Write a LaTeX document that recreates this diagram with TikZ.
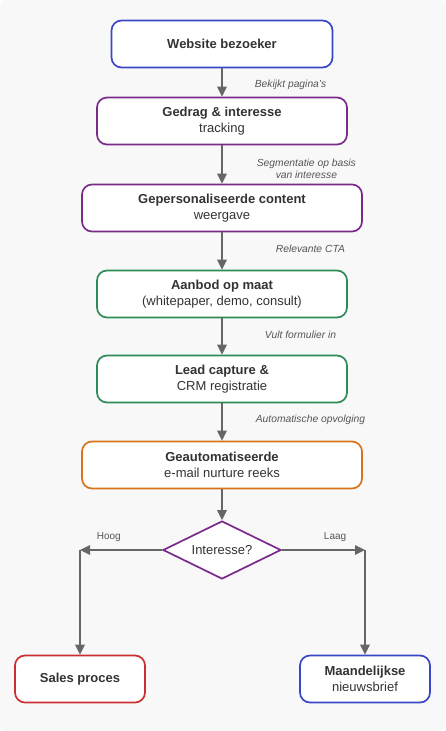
\documentclass[tikz,border=0pt]{standalone}
\usepackage{fontspec}
\setmainfont{Liberation Sans}
\usetikzlibrary{arrows.meta,shapes.geometric}
\definecolor{bggray}{HTML}{F8F8F8}
\definecolor{txtgray}{HTML}{333333}
\definecolor{linegray}{HTML}{666666}
\definecolor{lblgray}{HTML}{555555}
\definecolor{fblue}{HTML}{3A46C8}
\definecolor{fpurple}{HTML}{7B2A8C}
\definecolor{fgreen}{HTML}{2E8A57}
\definecolor{forange}{HTML}{D9731A}
\definecolor{fred}{HTML}{CC2F2F}
\begin{document}
\begin{tikzpicture}[x=1pt,y=-1pt]
\tikzstyle{every node}+=[inner sep=0pt]
\tikzstyle{stepbox}=[draw, line width=1.7pt, rounded corners=10pt, fill=white, minimum height=47pt, align=center, text=txtgray, font=\fontsize{13}{16}\selectfont]
\tikzstyle{flow}=[draw=linegray, line width=1.7pt, -{Triangle[length=10pt,width=9.5pt]}]
\tikzstyle{edgelabel}=[font=\fontsize{10.3}{12}\itshape, text=lblgray, align=center]
\tikzstyle{branchlabel}=[font=\fontsize{10}{12}\selectfont, text=lblgray]
\useasboundingbox (0,0) rectangle (445,731);
\fill [bggray, rounded corners=6pt] (0,0) rectangle (445,731);
% stappen
\node [stepbox, draw=fblue, minimum width=221pt] (bezoeker) at (222,44) {\textbf{Website bezoeker}};
\node [stepbox, draw=fpurple, minimum width=250pt] (gedrag) at (222,121) {\textbf{Gedrag \& interesse}\\tracking};
\node [stepbox, draw=fpurple, minimum width=280pt] (content) at (222,208) {\textbf{Gepersonaliseerde content}\\weergave};
\node [stepbox, draw=fgreen, minimum width=250pt] (aanbod) at (222,294) {\textbf{Aanbod op maat}\\(whitepaper, demo, consult)};
\node [stepbox, draw=fgreen, minimum width=250pt] (lead) at (222,379) {\textbf{Lead capture \&}\\CRM registratie};
\node [stepbox, draw=forange, minimum width=280pt] (nurture) at (222,465) {\textbf{Geautomatiseerde}\\e-mail nurture reeks};
\node [draw=fpurple, line width=1.7pt, fill=white, diamond, aspect=2, minimum width=118pt, minimum height=58pt, text=txtgray, font=\fontsize{13}{16}\selectfont] (keuze) at (222,550) {Interesse?};
\node [stepbox, draw=fred, minimum width=130pt] (sales) at (80,679) {\textbf{Sales proces}};
\node [stepbox, draw=fblue, minimum width=130pt] (nieuwsbrief) at (365,679) {\textbf{Maandelijkse}\\nieuwsbrief};
\coordinate (hoogturn) at (80,550);
\coordinate (laagturn) at (365,550);
% pijlen
\draw [flow] (bezoeker) -- node [edgelabel, anchor=west, xshift=32pt, yshift=-2pt] {Bekijkt pagina's} (gedrag);
\draw [flow] (gedrag) -- node [edgelabel, anchor=west, xshift=34pt, yshift=-4pt] {Segmentatie op basis\\van interesse} (content);
\draw [flow] (content) -- node [edgelabel, anchor=west, xshift=53pt, yshift=2pt] {Relevante CTA} (aanbod);
\draw [flow] (aanbod) -- node [edgelabel, anchor=west, xshift=42pt, yshift=2pt] {Vult formulier in} (lead);
\draw [flow] (lead) -- node [edgelabel, anchor=west, xshift=33pt, yshift=2pt] {Automatische opvolging} (nurture);
\draw [flow] (nurture) -- (keuze);
\draw [flow] (keuze.west) -- node [branchlabel, pos=0.65, anchor=south, yshift=8pt] {Hoog} (hoogturn);
\draw [flow] (hoogturn) -- (sales);
\draw [flow] (keuze.east) -- node [branchlabel, pos=0.64, anchor=south, yshift=8pt] {Laag} (laagturn);
\draw [flow] (laagturn) -- (nieuwsbrief);
\end{tikzpicture}
\end{document}
